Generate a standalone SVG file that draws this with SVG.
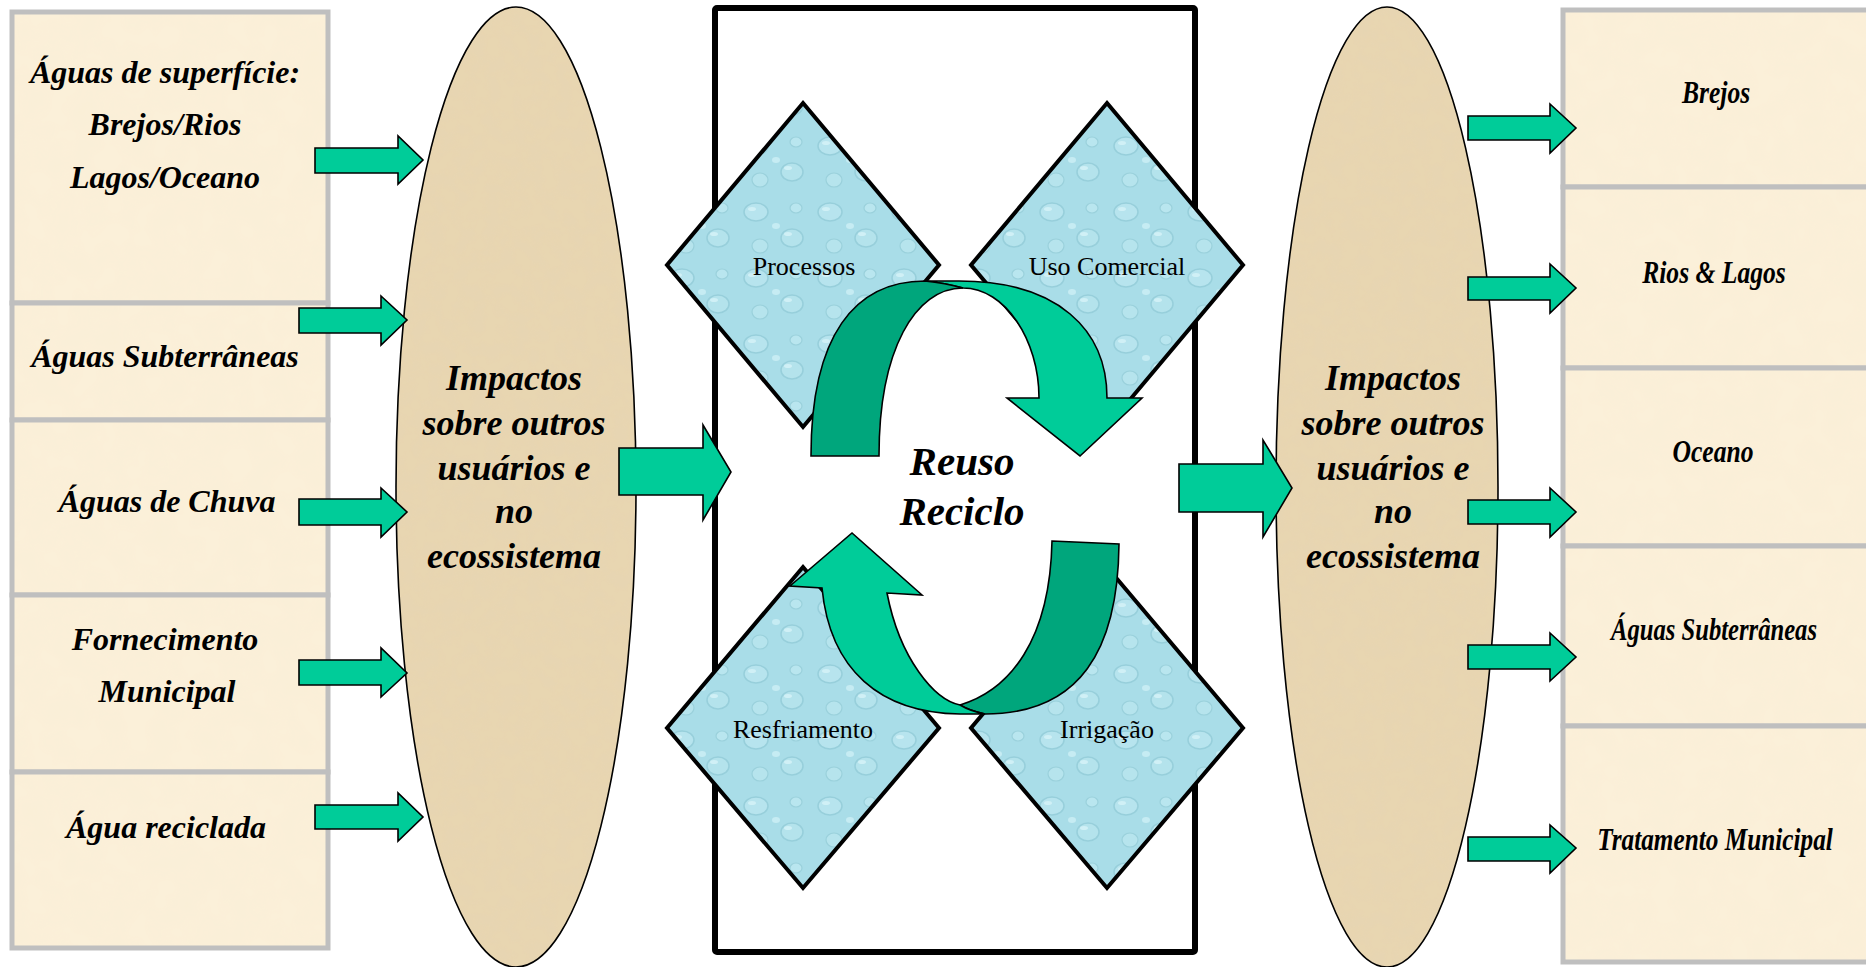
<svg xmlns="http://www.w3.org/2000/svg" width="1866" height="967" viewBox="0 0 1866 967">
<style>
.box{fill:#FBF0D9;filter:url(#grainL)}
.edge{fill:none;stroke:#BFBFBF;stroke-width:5}
.oval{fill:#E8D6B1;filter:url(#grain)}
.ring{fill:none;stroke:#000;stroke-width:1.6}
.dia{fill:url(#water);stroke:#000;stroke-width:4;stroke-linejoin:miter}
.arr{fill:#00CC99;stroke:#000;stroke-width:1.6;stroke-linejoin:miter}
.dark{fill:#00A67C;stroke:#000;stroke-width:1.6}
.lbl{font-family:"Liberation Serif","Times New Roman",serif;font-weight:bold;font-style:italic;font-size:32px;fill:#000;text-anchor:middle}
.rl{font-family:"Liberation Serif","Times New Roman",serif;font-weight:bold;font-style:italic;font-size:32px;fill:#000;text-anchor:middle}
.big{font-family:"Liberation Serif","Times New Roman",serif;font-weight:bold;font-style:italic;font-size:36px;fill:#000;text-anchor:middle}
.dl{font-family:"Liberation Serif","Times New Roman",serif;font-size:26px;fill:#000;text-anchor:middle}
.ctr{font-family:"Liberation Serif","Times New Roman",serif;font-weight:bold;font-style:italic;font-size:41px;fill:#000;text-anchor:middle}
</style>
<defs>
<pattern id="water" width="74" height="66" patternUnits="userSpaceOnUse">
<rect width="74" height="66" fill="#A9DDE8"/>
<ellipse cx="16" cy="14" rx="12" ry="9" fill="#B7E4EE" stroke="#97CFDB" stroke-width="1.5"/>
<ellipse cx="52" cy="40" rx="11" ry="9" fill="#B4E3EC" stroke="#97CFDB" stroke-width="1.5"/>
<ellipse cx="56" cy="10" rx="6" ry="5" fill="#B9E6EF" stroke="#9AD1DC" stroke-width="1.2"/>
<ellipse cx="20" cy="48" rx="8" ry="7" fill="#B6E4ED" stroke="#9AD1DC" stroke-width="1.2"/>
<ellipse cx="36" cy="28" rx="4" ry="3" fill="#C6ECF3"/>
<ellipse cx="12" cy="11" rx="4" ry="2" fill="#D0F0F6"/>
<ellipse cx="48" cy="36" rx="4" ry="2" fill="#D0F0F6"/>
</pattern>
<filter id="grain" x="0" y="0" width="100%" height="100%">
<feTurbulence type="fractalNoise" baseFrequency="0.07" numOctaves="3" seed="4" result="n"/>
<feColorMatrix in="n" type="matrix" values="0 0 0 0 0.76  0 0 0 0 0.66  0 0 0 0 0.48  0 0 0 0.5 -0.2" result="c"/>
<feComposite in="c" in2="SourceGraphic" operator="in" result="t"/>
<feMerge><feMergeNode in="SourceGraphic"/><feMergeNode in="t"/></feMerge>
</filter>
<filter id="grainL" x="0" y="0" width="100%" height="100%">
<feTurbulence type="fractalNoise" baseFrequency="0.04" numOctaves="2" seed="9" result="n"/>
<feColorMatrix in="n" type="matrix" values="0 0 0 0 0.93  0 0 0 0 0.85  0 0 0 0 0.66  0 0 0 0.5 -0.18" result="c"/>
<feComposite in="c" in2="SourceGraphic" operator="in" result="t"/>
<feMerge><feMergeNode in="SourceGraphic"/><feMergeNode in="t"/></feMerge>
</filter>
</defs>
<rect width="1866" height="967" fill="#FFFFFF"/>

<g id="src-superficie"><rect class="box" x="12" y="12" width="316" height="291"/><rect class="edge" x="12" y="12" width="316" height="291"/>
<text class="lbl" x="165" y="83">Águas de superfície:</text>
<text class="lbl" x="165" y="135">Brejos/Rios</text>
<text class="lbl" x="165" y="188">Lagos/Oceano</text></g>
<g id="src-subterraneas"><rect class="box" x="12" y="303" width="316" height="117"/><rect class="edge" x="12" y="303" width="316" height="117"/>
<text class="lbl" x="165" y="367">Águas Subterrâneas</text></g>
<g id="src-chuva"><rect class="box" x="12" y="420" width="316" height="175"/><rect class="edge" x="12" y="420" width="316" height="175"/>
<text class="lbl" x="167" y="512">Águas de Chuva</text></g>
<g id="src-municipal"><rect class="box" x="12" y="595" width="316" height="177"/><rect class="edge" x="12" y="595" width="316" height="177"/>
<text class="lbl" x="165" y="650">Fornecimento</text>
<text class="lbl" x="167" y="702">Municipal</text></g>
<g id="src-reciclada"><rect class="box" x="12" y="772" width="316" height="176"/><rect class="edge" x="12" y="772" width="316" height="176"/>
<text class="lbl" x="166" y="838">Água reciclada</text></g>

<g id="dst-brejos"><rect class="box" x="1563" y="10" width="303" height="177"/><path class="edge" d="M1870,10 H1563 V187 H1870"/>
<text class="rl" transform="translate(1716,103) scale(0.8,1)">Brejos</text></g>
<g id="dst-rios"><rect class="box" x="1563" y="187" width="303" height="181"/><path class="edge" d="M1870,187 H1563 V368 H1870"/>
<text class="rl" transform="translate(1714,283) scale(0.8,1)">Rios &amp; Lagos</text></g>
<g id="dst-oceano"><rect class="box" x="1563" y="368" width="303" height="178"/><path class="edge" d="M1870,368 H1563 V546 H1870"/>
<text class="rl" transform="translate(1713,462) scale(0.8,1)">Oceano</text></g>
<g id="dst-subterraneas"><rect class="box" x="1563" y="546" width="303" height="180"/><path class="edge" d="M1870,546 H1563 V726 H1870"/>
<text class="rl" transform="translate(1714,640) scale(0.77,1)">Águas Subterrâneas</text></g>
<g id="dst-municipal"><rect class="box" x="1563" y="726" width="303" height="236"/><path class="edge" d="M1870,726 H1563 V962 H1870"/>
<text class="rl" transform="translate(1715,850) scale(0.79,1)">Tratamento Municipal</text></g>

<g id="impactos-entrada"><ellipse class="oval" cx="516" cy="487" rx="120" ry="480"/><ellipse class="ring" cx="516" cy="487" rx="120" ry="480"/>
<text class="big" x="514" y="390">Impactos</text>
<text class="big" x="514" y="435">sobre outros</text>
<text class="big" x="514" y="480">usuários e</text>
<text class="big" x="514" y="523">no</text>
<text class="big" x="514" y="568">ecossistema</text></g>
<g id="impactos-saida"><ellipse class="oval" cx="1387" cy="487" rx="111" ry="480"/><ellipse class="ring" cx="1387" cy="487" rx="111" ry="480"/>
<text class="big" x="1393" y="390">Impactos</text>
<text class="big" x="1393" y="435">sobre outros</text>
<text class="big" x="1393" y="480">usuários e</text>
<text class="big" x="1393" y="523">no</text>
<text class="big" x="1393" y="568">ecossistema</text></g>

<g id="reuso-frame"><rect x="715" y="8" width="480" height="944" fill="none" stroke="#000" stroke-width="6" rx="2"/></g>

<g id="processos"><polygon class="dia" points="803,103 939,265 803,427 667,265"/>
<text class="dl" x="804" y="275">Processos</text></g>
<g id="uso-comercial"><polygon class="dia" points="1107,103 1243,265 1107,427 971,265"/>
<text class="dl" x="1107" y="275">Uso Comercial</text></g>
<g id="resfriamento"><polygon class="dia" points="803,567 939,728 803,888 667,728"/>
<text class="dl" x="803" y="738">Resfriamento</text></g>
<g id="irrigacao"><polygon class="dia" points="1107,567 1243,728 1107,888 971,728"/>
<text class="dl" x="1107" y="738">Irrigação</text></g>

<g id="connectors">
<polygon class="arr" points="315,148 398,148 398,136 423,160 398,184 398,173 315,173"/>
<polygon class="arr" points="299,308 381,308 381,296 407,320 381,345 381,333 299,333"/>
<polygon class="arr" points="299,499 381,499 381,488 407,512 381,537 381,525 299,525"/>
<polygon class="arr" points="299,660 381,660 381,648 407,673 381,697 381,685 299,685"/>
<polygon class="arr" points="315,805 398,805 398,793 423,817 398,841 398,829 315,829"/>
<polygon class="arr" points="1468,116 1550,116 1550,104 1576,128 1550,153 1550,140 1468,140"/>
<polygon class="arr" points="1468,277 1550,277 1550,264 1576,288 1550,313 1550,300 1468,300"/>
<polygon class="arr" points="1468,500 1550,500 1550,488 1576,512 1550,537 1550,524 1468,524"/>
<polygon class="arr" points="1468,645 1550,645 1550,633 1576,657 1550,681 1550,669 1468,669"/>
<polygon class="arr" points="1468,837 1550,837 1550,825 1576,848 1550,873 1550,861 1468,861"/>
<polygon class="arr" points="619,448 703,448 703,425 731,472 703,520 703,495 619,495"/>
<polygon class="arr" points="1179,464 1263,464 1263,440 1292,488 1263,537 1263,512 1179,512"/>
<path class="arr" d="M925,281 L959,281 C1058,281 1107,330 1107,398 L1142,398 L1080,456 L1007,398 L1039,398 C1039,340 1005,288 963,288 Q945,283 925,281 Z"/>
<path class="dark" d="M811,456 C811,335 855,281 925,281 Q945,283 963,288 C915,288 879,350 879,456 Z"/>
<path class="dark" d="M1052,541 L1119,544 C1118,650 1080,714 985,714 Q970,711 960,705 C1010,690 1050,640 1052,541 Z"/>
<path class="arr" d="M822,588 C830,670 880,713 960,714 L985,714 Q970,711 960,705 C935,700 900,660 887,593 L922,595 L852,533 L790,586 Z"/>
</g>

<g id="reuso-label">
<text class="ctr" x="962" y="475">Reuso</text>
<text class="ctr" x="962" y="525">Reciclo</text>
</g>
</svg>
